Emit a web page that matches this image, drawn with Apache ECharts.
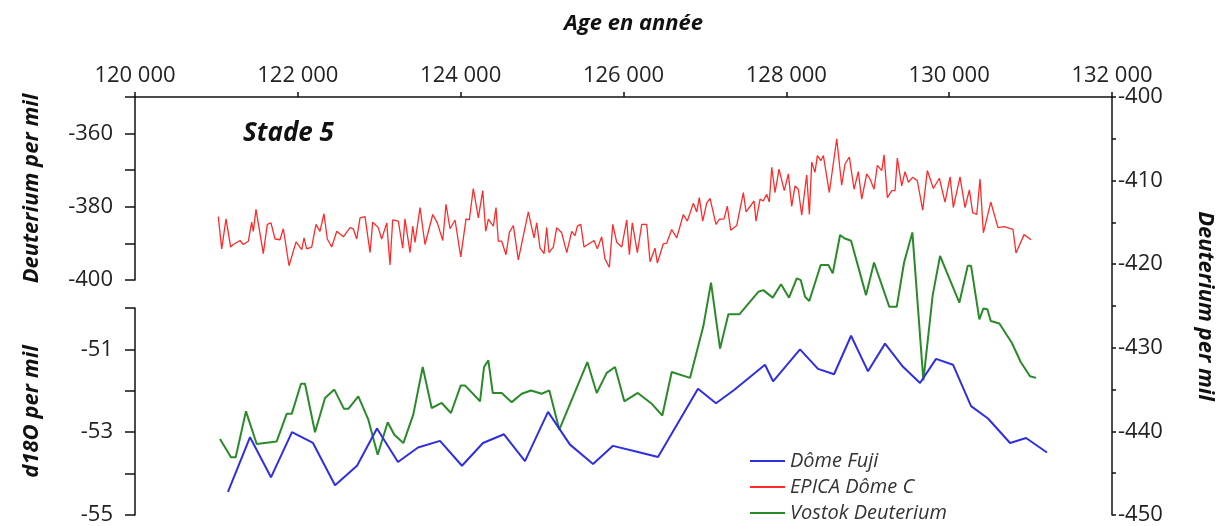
<!DOCTYPE html>
<html><head><meta charset="utf-8">
<script src="https://cdn.jsdelivr.net/npm/echarts@6/dist/echarts.min.js"></script>
<style>html,body{margin:0;padding:0;background:#fff}#c{width:1227px;height:526px}</style>
</head><body><div id="c"></div>
<script>
// X axis (Age en année)
const xTickValues = [120000,122000,124000,126000,128000,130000,132000];
const xTickLabels = ['120 000','122 000','124 000','126 000','128 000','130 000','132 000'];
// Left upper axis (EPICA Deuterium), lower left axis (d18O), right axis (Vostok Deuterium)
const upperLeftLabels = [-360,-380,-400];
const lowerLeftLabels = [-51,-53,-55];
const rightLabels = [-400,-410,-420,-430,-440,-450];

// EPICA Dôme C, [age, deuterium per mil]
const epicaDomeC = [
[121023,-382.7],[121065,-391.5],[121085,-391.9],[121118,-383.3],[121175,-391.0],[121207,-390.3],[121290,-389.2],[121330,-390.3],[121392,-389.4],[121433,-384.2],
[121453,-386.7],[121486,-380.7],[121576,-392.8],[121625,-384.8],[121670,-384.4],[121720,-388.8],[121781,-389.0],[121822,-386.0],[121892,-396.1],[121978,-389.6],
[122048,-391.7],[122076,-388.5],[122109,-391.5],[122170,-391.0],[122223,-384.8],[122272,-386.7],[122321,-381.9],[122362,-388.8],[122416,-391.0],[122478,-386.7],
[122559,-388.2],[122641,-385.7],[122681,-386.0],[122723,-388.8],[122764,-383.0],[122825,-382.7],[122887,-392.5],[122920,-384.2],[122988,-385.7],[123030,-388.8],
[123092,-384.4],[123132,-395.9],[123165,-383.6],[123234,-383.9],[123288,-391.3],[123316,-383.3],[123378,-392.5],[123411,-385.3],[123439,-389.7],[123501,-380.2],
[123562,-390.3],[123657,-382.1],[123713,-384.4],[123780,-389.2],[123820,-379.3],[123869,-386.0],[123931,-383.6],[124001,-393.7],[124066,-383.3],[124106,-383.6],
[124155,-375.0],[124217,-383.0],[124271,-375.6],[124308,-386.7],[124340,-383.4],[124401,-385.3],[124434,-380.2],[124462,-389.4],[124504,-389.4],[124557,-393.1],
[124598,-387.0],[124647,-385.1],[124708,-394.5],[124831,-381.4],[124901,-388.5],[124934,-384.4],[124975,-391.3],[125024,-392.8],[125057,-385.7],[125085,-392.5],
[125138,-391.0],[125180,-385.7],[125241,-387.1],[125303,-392.5],[125364,-386.7],[125405,-387.9],[125433,-385.3],[125475,-384.8],[125515,-391.0],[125638,-389.2],
[125678,-391.5],[125732,-388.2],[125773,-394.3],[125826,-396.5],[125868,-384.8],[125917,-389.7],[125978,-391.0],[126040,-383.6],[126072,-393.1],[126108,-384.4],
[126170,-392.5],[126224,-384.8],[126285,-384.8],[126326,-395.0],[126387,-391.3],[126416,-395.4],[126489,-390.1],[126531,-389.9],[126592,-386.2],[126654,-388.5],
[126735,-382.1],[126784,-383.9],[126858,-379.0],[126899,-381.4],[126931,-377.5],[126973,-383.9],[127022,-379.0],[127063,-377.7],[127136,-384.8],[127177,-383.4],
[127235,-383.3],[127275,-379.8],[127317,-386.4],[127391,-385.1],[127472,-376.1],[127505,-381.4],[127575,-379.3],[127603,-378.4],[127628,-383.9],[127677,-377.9],
[127717,-378.4],[127759,-376.6],[127791,-378.7],[127821,-369.2],[127861,-376.1],[127910,-369.7],[127975,-375.6],[128025,-371.0],[128066,-379.9],[128107,-374.3],
[128147,-375.2],[128189,-382.3],[128250,-371.3],[128283,-382.1],[128312,-367.8],[128352,-370.6],[128381,-366.0],[128423,-367.4],[128455,-366.0],[128528,-376.1],
[128619,-361.4],[128680,-374.1],[128721,-368.3],[128774,-366.4],[128832,-375.2],[128884,-370.4],[128926,-377.9],[128987,-371.0],[129028,-372.4],[129077,-375.2],
[129118,-368.7],[129172,-370.1],[129200,-365.8],[129241,-377.5],[129295,-375.6],[129335,-375.6],[129363,-366.7],[129417,-374.3],[129458,-370.4],[129499,-373.3],
[129553,-371.9],[129609,-372.9],[129675,-380.9],[129732,-370.1],[129806,-375.0],[129879,-372.2],[129949,-378.7],[130011,-371.8],[130051,-380.2],[130133,-371.8],
[130195,-380.2],[130248,-375.4],[130289,-381.6],[130339,-382.1],[130379,-372.4],[130420,-387.1],[130511,-378.7],[130600,-385.7],[130674,-385.4],[130784,-386.2],
[130821,-392.6],[130920,-387.6],[131006,-389.0]
];

// Vostok Deuterium, [age, deuterium per mil] (right axis)
const vostokDeuterium = [
[121044,-440.9],[121179,-443.1],[121237,-443.1],[121363,-437.6],[121495,-441.5],[121740,-441.2],[121863,-437.9],[121925,-437.9],[122039,-434.3],[122088,-434.3],
[122211,-440.1],[122334,-436.0],[122448,-435.0],[122567,-437.3],[122620,-437.3],[122743,-435.8],[122866,-438.6],[122981,-442.8],[123104,-438.9],[123185,-440.4],
[123296,-441.4],[123418,-438.0],[123534,-432.3],[123644,-437.2],[123767,-436.6],[123881,-437.8],[124001,-434.5],[124053,-434.5],[124238,-436.4],[124287,-432.3],
[124340,-431.5],[124394,-435.4],[124504,-435.4],[124627,-436.5],[124750,-435.5],[124864,-435.1],[124995,-435.5],[125089,-435.1],[125212,-439.8],[125556,-431.7],
[125671,-435.4],[125794,-433.0],[125896,-432.3],[126010,-436.4],[126175,-435.4],[126347,-436.7],[126477,-438.1],[126592,-432.9],[126817,-433.6],[126981,-427.4],
[127075,-422.2],[127186,-430.1],[127288,-426.0],[127423,-426.0],[127656,-423.3],[127717,-423.1],[127833,-424.0],[127935,-422.4],[128033,-424.0],[128128,-421.7],
[128177,-421.9],[128230,-423.9],[128282,-424.4],[128422,-420.1],[128516,-420.1],[128570,-421.1],[128660,-416.5],[128712,-416.9],[128795,-417.2],[128979,-423.7],
[129077,-419.8],[129265,-425.1],[129356,-425.1],[129446,-419.8],[129548,-416.2],[129683,-433.9],[129798,-423.7],[129888,-419.0],[130002,-421.7],[130125,-424.6],
[130228,-420.2],[130269,-420.2],[130371,-426.6],[130420,-425.3],[130469,-425.4],[130511,-426.8],[130616,-427.1],[130769,-429.4],[130879,-431.7],[130993,-433.4],
[131067,-433.6]
];

// Dôme Fuji, [age, d18O per mil] (lower left axis)
const domeFuji = [
[121142,-54.44],[121413,-53.12],[121670,-54.09],[121928,-53.00],[122186,-53.26],[122457,-54.28],[122727,-53.81],[122972,-52.91],[123230,-53.72],[123476,-53.37],
[123746,-53.21],[124016,-53.81],[124274,-53.26],[124532,-53.05],[124790,-53.70],[125073,-52.51],[125343,-53.30],[125626,-53.77],[125871,-53.33],[126166,-53.47],
[126424,-53.60],[126915,-51.95],[127136,-52.30],[127358,-51.98],[127738,-51.37],[127837,-51.77],[128168,-51.00],[128389,-51.47],[128586,-51.60],[128795,-50.67],
[129003,-51.53],[129212,-50.86],[129433,-51.42],[129642,-51.81],[129839,-51.23],[130047,-51.37],[130269,-52.37],[130477,-52.67],[130748,-53.26],[130944,-53.14],
[131202,-53.49]
];

const FONT = "'Open Sans', 'Noto Sans', sans-serif";
const AX = {lineStyle:{color:'#111', width:1.5}};
const labelStyle = {fontFamily: FONT, fontSize: 22, color: '#222'};
const nameStyle = {fontFamily: FONT, fontSize: 22, fontWeight: 'bold', fontStyle: 'italic', color: '#111'};

const chart = echarts.init(document.getElementById('c'), null, {renderer: 'canvas'});
const xBase = {type:'value', min:xTickValues[0], max:xTickValues[xTickValues.length-1], interval:2000};
chart.setOption({
  animation: false,
  backgroundColor: '#fff',
  grid: [
    {left:135, right:115, top:97, height:183},
    {left:135, right:115, top:308, height:214},
    {left:135, right:115, top:97, height:425}
  ],
  xAxis: [
    Object.assign({}, xBase, {gridIndex:0, position:'top',
      name:'Age en année', nameLocation:'middle', nameGap:62,
      nameTextStyle: Object.assign({}, nameStyle, {padding:[0,0,0,20]}),
      axisLine:Object.assign({show:true}, AX),
      axisTick:{show:true, inside:false, length:5, lineStyle:{color:'#111', width:1.5}},
      axisLabel:Object.assign({}, labelStyle, {margin:10,
        formatter: v => { const i = xTickValues.indexOf(v); return i >= 0 ? xTickLabels[i] : ''; }}),
      splitLine:{show:false}}),
    Object.assign({}, xBase, {gridIndex:1, show:false}),
    Object.assign({}, xBase, {gridIndex:2, show:false})
  ],
  yAxis: [
    {type:'value', gridIndex:0, position:'left', min:-400, max:-350, interval:10,
      name:'Deuterium per mil', nameLocation:'middle', nameGap:92, nameRotate:90, nameTextStyle:nameStyle,
      axisLine:Object.assign({show:true}, AX),
      axisTick:{show:true, inside:false, length:10, lineStyle:{color:'#111', width:1.5}},
      axisLabel:Object.assign({}, labelStyle, {margin:22, formatter: v => upperLeftLabels.includes(v) ? String(v) : ''}),
      splitLine:{show:false}},
    {type:'value', gridIndex:1, position:'left', min:-55, max:-50, interval:1,
      name:'d18O per mil', nameLocation:'middle', nameGap:92, nameRotate:90, nameTextStyle:nameStyle,
      axisLine:Object.assign({show:true}, AX),
      axisTick:{show:true, inside:false, length:10, lineStyle:{color:'#111', width:1.5}},
      axisLabel:Object.assign({}, labelStyle, {margin:22, formatter: v => lowerLeftLabels.includes(v) ? String(v) : ''}),
      splitLine:{show:false}},
    {type:'value', gridIndex:2, position:'right', min:-450, max:-400, interval:5,
      name:'Deuterium per mil', nameLocation:'middle', nameGap:82, nameRotate:-90, nameTextStyle:nameStyle,
      axisLine:Object.assign({show:true}, AX),
      axisTick:{show:true, inside:false, length:4, lineStyle:{color:'#111', width:1.5}},
      axisLabel:Object.assign({}, labelStyle, {margin:6, formatter: v => rightLabels.includes(v) ? String(v) : ''}),
      splitLine:{show:false}}
  ],
  legend: {
    orient:'vertical', left:750, top:451, padding:0, itemWidth:35, itemHeight:2, itemGap:6, height:80,
    data:[
      {name:'Dôme Fuji', icon:'rect'},
      {name:'EPICA Dôme C', icon:'rect'},
      {name:'Vostok Deuterium', icon:'rect'}
    ],
    textStyle:{fontFamily:FONT, fontSize:20, fontStyle:'italic', color:'#333'},
    selectedMode:false
  },
  graphic: [
    {type:'text', left:243, top:121, style:{text:'Stade 5', fontFamily:FONT, fontSize:26, fontWeight:'bold', fontStyle:'italic', fill:'#111'}}
  ],
  series: [
    {name:'EPICA Dôme C', type:'line', xAxisIndex:0, yAxisIndex:0, data:epicaDomeC, symbol:'none',
      lineStyle:{color:'#ff2a2a', width:1.3}, itemStyle:{color:'#ff2a2a'}},
    {name:'Vostok Deuterium', type:'line', xAxisIndex:2, yAxisIndex:2, data:vostokDeuterium, symbol:'none',
      lineStyle:{color:'#2a8a2a', width:2}, itemStyle:{color:'#2a8a2a'}},
    {name:'Dôme Fuji', type:'line', xAxisIndex:1, yAxisIndex:1, data:domeFuji, symbol:'none',
      lineStyle:{color:'#2f2fe0', width:2}, itemStyle:{color:'#2f2fe0'}}
  ]
});
</script></body></html>
